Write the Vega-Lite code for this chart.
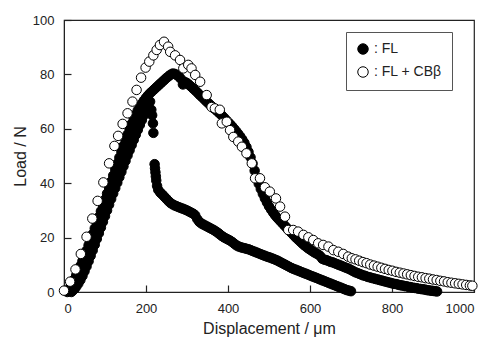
{
"$schema": "https://vega.github.io/schema/vega-lite/v6.json",
"width": 410, "height": 272,
"autosize": "none",
"padding": {"left": 64, "top": 20, "right": 16, "bottom": 50},
"background": "white",
"config": {"view": {"stroke": "#222", "strokeWidth": 1.2}, "font": "Liberation Sans"},
"data": {"values": [
{"x":18,"y":0,"s":"FL"},{"x":22,"y":0.6,"s":"FL"},{"x":26,"y":1.2,"s":"FL"},{"x":30,"y":2,"s":"FL"},{"x":35,"y":3.1,"s":"FL"},{"x":40,"y":4.4,"s":"FL"},{"x":45,"y":5.9,"s":"FL"},{"x":50,"y":7.6,"s":"FL"},{"x":55,"y":9.4,"s":"FL"},{"x":60,"y":11.3,"s":"FL"},{"x":65,"y":13.3,"s":"FL"},{"x":70,"y":15.3,"s":"FL"},{"x":75,"y":17.4,"s":"FL"},{"x":80,"y":19.5,"s":"FL"},{"x":85,"y":21.6,"s":"FL"},{"x":90,"y":23.7,"s":"FL"},{"x":95,"y":25.8,"s":"FL"},{"x":100,"y":27.9,"s":"FL"},{"x":105,"y":30,"s":"FL"},{"x":110,"y":32.1,"s":"FL"},{"x":115,"y":34.2,"s":"FL"},{"x":120,"y":36.2,"s":"FL"},{"x":125,"y":38.2,"s":"FL"},{"x":130,"y":40.2,"s":"FL"},{"x":135,"y":42.2,"s":"FL"},{"x":140,"y":44.2,"s":"FL"},{"x":145,"y":46.2,"s":"FL"},{"x":150,"y":48.2,"s":"FL"},{"x":155,"y":50.2,"s":"FL"},{"x":160,"y":52.1,"s":"FL"},{"x":165,"y":54,"s":"FL"},{"x":170,"y":55.9,"s":"FL"},{"x":175,"y":57.8,"s":"FL"},{"x":180,"y":59.6,"s":"FL"},{"x":185,"y":61.4,"s":"FL"},{"x":190,"y":63.2,"s":"FL"},{"x":195,"y":65,"s":"FL"},{"x":200,"y":66.8,"s":"FL"},{"x":205,"y":68.5,"s":"FL"},{"x":210,"y":70,"s":"FL"},{"x":213,"y":67,"s":"FL"},{"x":215,"y":65,"s":"FL"},{"x":217,"y":62,"s":"FL"},{"x":218,"y":58.5,"s":"FL"},{"x":221,"y":47,"s":"FL"},{"x":222,"y":45.5,"s":"FL"},{"x":223,"y":44,"s":"FL"},{"x":224,"y":42.5,"s":"FL"},{"x":225,"y":41,"s":"FL"},{"x":227,"y":39,"s":"FL"},{"x":230,"y":37.5,"s":"FL"},{"x":235,"y":36.5,"s":"FL"},{"x":240,"y":35.8,"s":"FL"},{"x":245,"y":35,"s":"FL"},{"x":250,"y":34.2,"s":"FL"},{"x":255,"y":33.4,"s":"FL"},{"x":260,"y":32.7,"s":"FL"},{"x":265,"y":32.2,"s":"FL"},{"x":270,"y":31.8,"s":"FL"},{"x":275,"y":31.5,"s":"FL"},{"x":280,"y":31.2,"s":"FL"},{"x":285,"y":30.9,"s":"FL"},{"x":290,"y":30.6,"s":"FL"},{"x":295,"y":30.3,"s":"FL"},{"x":300,"y":30,"s":"FL"},{"x":305,"y":29.6,"s":"FL"},{"x":310,"y":29.2,"s":"FL"},{"x":315,"y":28.8,"s":"FL"},{"x":320,"y":28.2,"s":"FL"},{"x":325,"y":26.8,"s":"FL"},{"x":330,"y":25.8,"s":"FL"},{"x":335,"y":25.2,"s":"FL"},{"x":340,"y":24.8,"s":"FL"},{"x":345,"y":24.4,"s":"FL"},{"x":350,"y":24,"s":"FL"},{"x":355,"y":23.6,"s":"FL"},{"x":360,"y":23.2,"s":"FL"},{"x":365,"y":22.8,"s":"FL"},{"x":370,"y":22.3,"s":"FL"},{"x":375,"y":21.8,"s":"FL"},{"x":380,"y":21.2,"s":"FL"},{"x":385,"y":20.6,"s":"FL"},{"x":390,"y":20.1,"s":"FL"},{"x":395,"y":19.7,"s":"FL"},{"x":400,"y":19.3,"s":"FL"},{"x":405,"y":18.9,"s":"FL"},{"x":410,"y":18.4,"s":"FL"},{"x":415,"y":17.8,"s":"FL"},{"x":420,"y":17.2,"s":"FL"},{"x":425,"y":16.8,"s":"FL"},{"x":430,"y":16.5,"s":"FL"},{"x":435,"y":16.3,"s":"FL"},{"x":440,"y":16.1,"s":"FL"},{"x":445,"y":15.9,"s":"FL"},{"x":450,"y":15.7,"s":"FL"},{"x":455,"y":15.4,"s":"FL"},{"x":460,"y":15.1,"s":"FL"},{"x":465,"y":14.8,"s":"FL"},{"x":470,"y":14.5,"s":"FL"},{"x":475,"y":14.2,"s":"FL"},{"x":480,"y":13.9,"s":"FL"},{"x":485,"y":13.6,"s":"FL"},{"x":490,"y":13.3,"s":"FL"},{"x":495,"y":13,"s":"FL"},{"x":500,"y":12.8,"s":"FL"},{"x":505,"y":12.5,"s":"FL"},{"x":510,"y":12.2,"s":"FL"},{"x":515,"y":11.9,"s":"FL"},{"x":520,"y":11.6,"s":"FL"},{"x":525,"y":11.2,"s":"FL"},{"x":530,"y":10.8,"s":"FL"},{"x":535,"y":10.4,"s":"FL"},{"x":540,"y":10,"s":"FL"},{"x":545,"y":9.6,"s":"FL"},{"x":550,"y":9.2,"s":"FL"},{"x":555,"y":8.8,"s":"FL"},{"x":560,"y":8.5,"s":"FL"},{"x":565,"y":8.2,"s":"FL"},{"x":570,"y":7.9,"s":"FL"},{"x":575,"y":7.6,"s":"FL"},{"x":580,"y":7.3,"s":"FL"},{"x":585,"y":7,"s":"FL"},{"x":590,"y":6.7,"s":"FL"},{"x":595,"y":6.4,"s":"FL"},{"x":600,"y":6.1,"s":"FL"},{"x":605,"y":5.8,"s":"FL"},{"x":610,"y":5.5,"s":"FL"},{"x":615,"y":5.2,"s":"FL"},{"x":620,"y":4.9,"s":"FL"},{"x":625,"y":4.6,"s":"FL"},{"x":630,"y":4.3,"s":"FL"},{"x":635,"y":4,"s":"FL"},{"x":640,"y":3.7,"s":"FL"},{"x":645,"y":3.4,"s":"FL"},{"x":650,"y":3.1,"s":"FL"},{"x":655,"y":2.8,"s":"FL"},{"x":660,"y":2.5,"s":"FL"},{"x":665,"y":2.2,"s":"FL"},{"x":670,"y":1.9,"s":"FL"},{"x":675,"y":1.6,"s":"FL"},{"x":680,"y":1.3,"s":"FL"},{"x":685,"y":1,"s":"FL"},{"x":690,"y":0.7,"s":"FL"},{"x":695,"y":0.5,"s":"FL"},{"x":700,"y":0.3,"s":"FL"},
{"x":8,"y":0,"s":"FL"},{"x":12,"y":1,"s":"FL"},{"x":16,"y":2,"s":"FL"},{"x":20,"y":3.2,"s":"FL"},{"x":25,"y":4.6,"s":"FL"},{"x":30,"y":6.2,"s":"FL"},{"x":35,"y":7.9,"s":"FL"},{"x":40,"y":9.6,"s":"FL"},{"x":45,"y":11.4,"s":"FL"},{"x":50,"y":13.3,"s":"FL"},{"x":55,"y":15.2,"s":"FL"},{"x":60,"y":17.2,"s":"FL"},{"x":65,"y":19.2,"s":"FL"},{"x":70,"y":21.3,"s":"FL"},{"x":75,"y":23.4,"s":"FL"},{"x":80,"y":25.5,"s":"FL"},{"x":85,"y":27.6,"s":"FL"},{"x":90,"y":29.7,"s":"FL"},{"x":95,"y":31.8,"s":"FL"},{"x":100,"y":34,"s":"FL"},{"x":105,"y":36.2,"s":"FL"},{"x":110,"y":38.4,"s":"FL"},{"x":115,"y":40.6,"s":"FL"},{"x":120,"y":42.8,"s":"FL"},{"x":125,"y":45,"s":"FL"},{"x":130,"y":47.2,"s":"FL"},{"x":135,"y":49.4,"s":"FL"},{"x":140,"y":51.6,"s":"FL"},{"x":145,"y":53.7,"s":"FL"},{"x":150,"y":55.8,"s":"FL"},{"x":155,"y":57.9,"s":"FL"},{"x":160,"y":59.9,"s":"FL"},{"x":165,"y":61.8,"s":"FL"},{"x":170,"y":63.6,"s":"FL"},{"x":175,"y":65.3,"s":"FL"},{"x":180,"y":66.8,"s":"FL"},{"x":185,"y":68.1,"s":"FL"},{"x":190,"y":69.3,"s":"FL"},{"x":195,"y":70.4,"s":"FL"},{"x":200,"y":71.4,"s":"FL"},{"x":205,"y":72.3,"s":"FL"},{"x":210,"y":73.1,"s":"FL"},{"x":215,"y":73.8,"s":"FL"},{"x":220,"y":74.5,"s":"FL"},{"x":225,"y":75.2,"s":"FL"},{"x":230,"y":75.9,"s":"FL"},{"x":235,"y":76.6,"s":"FL"},{"x":240,"y":77.3,"s":"FL"},{"x":245,"y":78,"s":"FL"},{"x":250,"y":78.7,"s":"FL"},{"x":255,"y":79.3,"s":"FL"},{"x":260,"y":79.9,"s":"FL"},{"x":265,"y":80.3,"s":"FL"},{"x":270,"y":80.2,"s":"FL"},{"x":275,"y":79.8,"s":"FL"},{"x":280,"y":79.2,"s":"FL"},{"x":285,"y":78.4,"s":"FL"},{"x":290,"y":76.3,"s":"FL"},{"x":295,"y":77.2,"s":"FL"},{"x":300,"y":76.8,"s":"FL"},{"x":305,"y":76.2,"s":"FL"},{"x":310,"y":75.5,"s":"FL"},{"x":315,"y":74.8,"s":"FL"},{"x":320,"y":74.1,"s":"FL"},{"x":325,"y":73.4,"s":"FL"},{"x":330,"y":72.6,"s":"FL"},{"x":335,"y":71.9,"s":"FL"},{"x":340,"y":71.2,"s":"FL"},{"x":345,"y":70.4,"s":"FL"},{"x":350,"y":69.7,"s":"FL"},{"x":355,"y":69,"s":"FL"},{"x":360,"y":68.3,"s":"FL"},{"x":365,"y":67.6,"s":"FL"},{"x":370,"y":67,"s":"FL"},{"x":375,"y":66.3,"s":"FL"},{"x":380,"y":65.6,"s":"FL"},{"x":385,"y":64.9,"s":"FL"},{"x":390,"y":64.1,"s":"FL"},{"x":395,"y":63.3,"s":"FL"},{"x":400,"y":62.5,"s":"FL"},{"x":405,"y":61.7,"s":"FL"},{"x":410,"y":60.9,"s":"FL"},{"x":415,"y":60,"s":"FL"},{"x":420,"y":59.1,"s":"FL"},{"x":425,"y":58.1,"s":"FL"},{"x":430,"y":57.1,"s":"FL"},{"x":435,"y":56,"s":"FL"},{"x":440,"y":54.8,"s":"FL"},{"x":445,"y":53.3,"s":"FL"},{"x":450,"y":51.5,"s":"FL"},{"x":455,"y":49.5,"s":"FL"},{"x":460,"y":47.2,"s":"FL"},{"x":465,"y":44.6,"s":"FL"},{"x":470,"y":42,"s":"FL"},{"x":475,"y":39.8,"s":"FL"},{"x":480,"y":37.9,"s":"FL"},{"x":485,"y":36.1,"s":"FL"},{"x":490,"y":34.4,"s":"FL"},{"x":495,"y":32.9,"s":"FL"},{"x":500,"y":31.5,"s":"FL"},{"x":505,"y":30.3,"s":"FL"},{"x":510,"y":29.2,"s":"FL"},{"x":515,"y":28.2,"s":"FL"},{"x":520,"y":27.3,"s":"FL"},{"x":525,"y":26.5,"s":"FL"},{"x":530,"y":25.7,"s":"FL"},{"x":535,"y":24.9,"s":"FL"},{"x":540,"y":24.1,"s":"FL"},{"x":545,"y":23.3,"s":"FL"},{"x":550,"y":22.5,"s":"FL"},{"x":555,"y":21.7,"s":"FL"},{"x":560,"y":20.9,"s":"FL"},{"x":565,"y":20.1,"s":"FL"},{"x":570,"y":19.4,"s":"FL"},{"x":575,"y":18.7,"s":"FL"},{"x":580,"y":18,"s":"FL"},{"x":585,"y":17.3,"s":"FL"},{"x":590,"y":16.7,"s":"FL"},{"x":595,"y":16.1,"s":"FL"},{"x":600,"y":15.6,"s":"FL"},{"x":605,"y":15.1,"s":"FL"},{"x":610,"y":14.6,"s":"FL"},{"x":615,"y":14.2,"s":"FL"},{"x":620,"y":13.8,"s":"FL"},{"x":625,"y":13.2,"s":"FL"},{"x":630,"y":12.2,"s":"FL"},{"x":635,"y":11.9,"s":"FL"},{"x":640,"y":11.7,"s":"FL"},{"x":645,"y":11.4,"s":"FL"},{"x":650,"y":11.1,"s":"FL"},{"x":655,"y":10.9,"s":"FL"},{"x":660,"y":10.6,"s":"FL"},{"x":665,"y":10.3,"s":"FL"},{"x":670,"y":10,"s":"FL"},{"x":675,"y":9.7,"s":"FL"},{"x":680,"y":9.4,"s":"FL"},{"x":685,"y":9.1,"s":"FL"},{"x":690,"y":8.8,"s":"FL"},{"x":695,"y":8.5,"s":"FL"},{"x":700,"y":8.1,"s":"FL"},{"x":705,"y":7.7,"s":"FL"},{"x":710,"y":7.3,"s":"FL"},{"x":715,"y":7,"s":"FL"},{"x":720,"y":6.7,"s":"FL"},{"x":725,"y":6.4,"s":"FL"},{"x":730,"y":6.1,"s":"FL"},{"x":735,"y":5.9,"s":"FL"},{"x":740,"y":5.6,"s":"FL"},{"x":745,"y":5.4,"s":"FL"},{"x":750,"y":5.2,"s":"FL"},{"x":755,"y":5,"s":"FL"},{"x":760,"y":4.8,"s":"FL"},{"x":765,"y":4.6,"s":"FL"},{"x":770,"y":4.4,"s":"FL"},{"x":775,"y":4.2,"s":"FL"},{"x":780,"y":4,"s":"FL"},{"x":785,"y":3.8,"s":"FL"},{"x":790,"y":3.6,"s":"FL"},{"x":795,"y":3.4,"s":"FL"},{"x":800,"y":3.2,"s":"FL"},{"x":805,"y":3,"s":"FL"},{"x":810,"y":2.9,"s":"FL"},{"x":815,"y":2.7,"s":"FL"},{"x":820,"y":2.5,"s":"FL"},{"x":825,"y":2.4,"s":"FL"},{"x":830,"y":2.2,"s":"FL"},{"x":835,"y":2.1,"s":"FL"},{"x":840,"y":1.9,"s":"FL"},{"x":845,"y":1.8,"s":"FL"},{"x":850,"y":1.6,"s":"FL"},{"x":855,"y":1.5,"s":"FL"},{"x":860,"y":1.4,"s":"FL"},{"x":865,"y":1.2,"s":"FL"},{"x":870,"y":1.1,"s":"FL"},{"x":875,"y":1,"s":"FL"},{"x":880,"y":0.9,"s":"FL"},{"x":885,"y":0.7,"s":"FL"},{"x":890,"y":0.6,"s":"FL"},{"x":895,"y":0.5,"s":"FL"},{"x":900,"y":0.4,"s":"FL"},{"x":905,"y":0.3,"s":"FL"},{"x":910,"y":0.2,"s":"FL"},
{"x":0,"y":0.5,"s":"FL + CBβ"},{"x":15,"y":3.8,"s":"FL + CBβ"},{"x":28,"y":8.3,"s":"FL + CBβ"},{"x":41,"y":14,"s":"FL + CBβ"},{"x":55,"y":20.3,"s":"FL + CBβ"},{"x":69,"y":27,"s":"FL + CBβ"},{"x":82,"y":33.5,"s":"FL + CBβ"},{"x":96,"y":40.3,"s":"FL + CBβ"},{"x":110,"y":47.3,"s":"FL + CBβ"},{"x":123,"y":53.7,"s":"FL + CBβ"},{"x":132,"y":57.4,"s":"FL + CBβ"},{"x":143,"y":61.8,"s":"FL + CBβ"},{"x":155,"y":65.7,"s":"FL + CBβ"},{"x":167,"y":70,"s":"FL + CBβ"},{"x":177,"y":74.3,"s":"FL + CBβ"},{"x":188,"y":78.8,"s":"FL + CBβ"},{"x":199,"y":82.5,"s":"FL + CBβ"},{"x":208,"y":84.7,"s":"FL + CBβ"},{"x":218,"y":87,"s":"FL + CBβ"},{"x":226,"y":89,"s":"FL + CBβ"},{"x":234,"y":90.8,"s":"FL + CBβ"},{"x":244,"y":92,"s":"FL + CBβ"},{"x":254,"y":90.2,"s":"FL + CBβ"},{"x":259,"y":88.3,"s":"FL + CBβ"},{"x":271,"y":87,"s":"FL + CBβ"},{"x":283,"y":85.3,"s":"FL + CBβ"},{"x":291,"y":82.2,"s":"FL + CBβ"},{"x":303,"y":83.5,"s":"FL + CBβ"},{"x":311,"y":82.2,"s":"FL + CBβ"},{"x":320,"y":79.8,"s":"FL + CBβ"},{"x":332,"y":77.3,"s":"FL + CBβ"},{"x":348,"y":72.4,"s":"FL + CBβ"},{"x":360,"y":68,"s":"FL + CBβ"},{"x":368,"y":67.5,"s":"FL + CBβ"},{"x":380,"y":67,"s":"FL + CBβ"},{"x":385,"y":62,"s":"FL + CBβ"},{"x":397,"y":62.6,"s":"FL + CBβ"},{"x":405,"y":59.5,"s":"FL + CBβ"},{"x":413,"y":57,"s":"FL + CBβ"},{"x":425,"y":55.3,"s":"FL + CBβ"},{"x":434,"y":53.4,"s":"FL + CBβ"},{"x":445,"y":51,"s":"FL + CBβ"},{"x":458,"y":47.3,"s":"FL + CBβ"},{"x":466,"y":41.8,"s":"FL + CBβ"},{"x":478,"y":41.8,"s":"FL + CBβ"},{"x":490,"y":38.5,"s":"FL + CBβ"},{"x":502,"y":36.9,"s":"FL + CBβ"},{"x":517,"y":34.4,"s":"FL + CBβ"},{"x":527,"y":31.4,"s":"FL + CBβ"},{"x":539,"y":27.7,"s":"FL + CBβ"},{"x":547,"y":22.8,"s":"FL + CBβ"},{"x":559,"y":22.8,"s":"FL + CBβ"},{"x":571,"y":22.2,"s":"FL + CBβ"},{"x":584,"y":21,"s":"FL + CBβ"},{"x":596,"y":20.1,"s":"FL + CBβ"},{"x":608,"y":19.1,"s":"FL + CBβ"},{"x":620,"y":17.9,"s":"FL + CBβ"},{"x":632,"y":17.3,"s":"FL + CBβ"},{"x":645,"y":16.7,"s":"FL + CBβ"},{"x":657,"y":15.4,"s":"FL + CBβ"},{"x":669,"y":14.8,"s":"FL + CBβ"},{"x":681,"y":14,"s":"FL + CBβ"},{"x":693,"y":13,"s":"FL + CBβ"},{"x":702,"y":12.4,"s":"FL + CBβ"},{"x":711,"y":12,"s":"FL + CBβ"},{"x":720,"y":11.5,"s":"FL + CBβ"},{"x":729,"y":11,"s":"FL + CBβ"},{"x":738,"y":10.6,"s":"FL + CBβ"},{"x":747,"y":10.1,"s":"FL + CBβ"},{"x":756,"y":9.7,"s":"FL + CBβ"},{"x":765,"y":9.3,"s":"FL + CBβ"},{"x":774,"y":8.9,"s":"FL + CBβ"},{"x":783,"y":8.5,"s":"FL + CBβ"},{"x":792,"y":8.1,"s":"FL + CBβ"},{"x":801,"y":7.8,"s":"FL + CBβ"},{"x":810,"y":7.4,"s":"FL + CBβ"},{"x":819,"y":7.1,"s":"FL + CBβ"},{"x":828,"y":6.8,"s":"FL + CBβ"},{"x":837,"y":6.5,"s":"FL + CBβ"},{"x":846,"y":6.2,"s":"FL + CBβ"},{"x":855,"y":5.9,"s":"FL + CBβ"},{"x":864,"y":5.6,"s":"FL + CBβ"},{"x":873,"y":5.4,"s":"FL + CBβ"},{"x":882,"y":5.1,"s":"FL + CBβ"},{"x":891,"y":4.9,"s":"FL + CBβ"},{"x":900,"y":4.6,"s":"FL + CBβ"},{"x":909,"y":4.4,"s":"FL + CBβ"},{"x":918,"y":4.1,"s":"FL + CBβ"},{"x":927,"y":3.9,"s":"FL + CBβ"},{"x":936,"y":3.6,"s":"FL + CBβ"},{"x":945,"y":3.4,"s":"FL + CBβ"},{"x":954,"y":3.2,"s":"FL + CBβ"},{"x":963,"y":3,"s":"FL + CBβ"},{"x":972,"y":2.8,"s":"FL + CBβ"},{"x":981,"y":2.6,"s":"FL + CBβ"},{"x":990,"y":2.4,"s":"FL + CBβ"},{"x":996,"y":2.3,"s":"FL + CBβ"}
]},
"mark": {"type": "point", "filled": true, "shape": "circle", "size": 90, "stroke": "black", "strokeWidth": 1, "opacity": 1},
"encoding": {
 "x": {"field": "x", "type": "quantitative", "scale": {"domain": [0, 1000], "nice": false, "zero": false},
  "axis": {"values": [0,200,400,600,800,1000], "format": "d", "tickSize": -7, "tickWidth": 1.2, "labelPadding": 17, "grid": false, "domainColor": "#222", "tickColor": "#222", "labelFontSize": 13, "labelColor": "#222", "title": "Displacement / μm", "titleFontSize": 16, "titleFontWeight": "normal", "titleColor": "#222", "titleY": 41, "titleBaseline": "alphabetic"}},
 "y": {"field": "y", "type": "quantitative", "scale": {"domain": [0, 100], "nice": false},
  "axis": {"values": [0,20,40,60,80,100], "tickSize": -7, "tickWidth": 1.2, "labelPadding": 17, "grid": false, "domainColor": "#222", "tickColor": "#222", "labelFontSize": 13, "labelColor": "#222", "title": "Load / N", "titleFontSize": 16, "titleFontWeight": "normal", "titleColor": "#222", "titleX": -44, "titleBaseline": "middle"}},
 "fill": {"field": "s", "type": "nominal", "scale": {"domain": ["FL", "FL + CBβ"], "range": ["black", "white"]},
  "legend": {"orient": "none", "legendX": 282, "legendY": 12, "title": null, "strokeColor": "#555", "fillColor": "white", "padding": 10, "symbolType": "circle", "symbolSize": 110, "symbolStrokeColor": "black", "symbolStrokeWidth": 1, "labelFontSize": 14, "labelColor": "#222", "labelOffset": 4, "rowPadding": 7, "labelExpr": "': ' + datum.label"}}
}
}
